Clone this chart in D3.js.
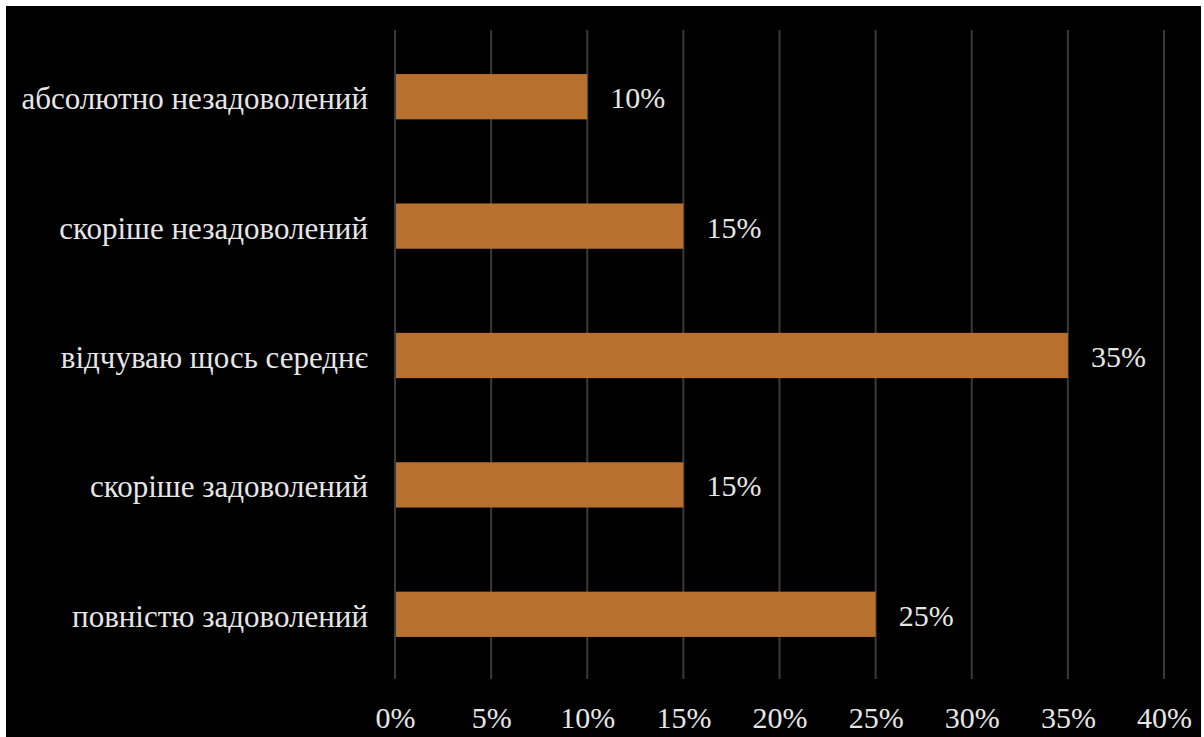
<!DOCTYPE html>
<html><head><meta charset="utf-8">
<script src="https://cdn.jsdelivr.net/npm/d3@7"></script>
<style>html,body{margin:0;padding:0;background:#fff;}svg{display:block;}</style>
</head><body>
<svg id="c" width="1204" height="737"></svg>
<script>
const categories = ["абсолютно незадоволений","скоріше незадоволений","відчуваю щось середнє","скоріше задоволений","повністю задоволений"];
const values = [10, 15, 35, 15, 25];
const ticks = [0,5,10,15,20,25,30,35,40];

const FONT = "'Liberation Serif'";
const svg = d3.select("#c");
svg.append("rect").attr("x",6).attr("y",6).attr("width",1195).attr("height",731).attr("fill","#000");

const x = d3.scaleLinear().domain([0,40]).range([395,1164]);
const y = d3.scaleBand().domain(categories).range([32,679]).paddingInner(0.65).paddingOuter(0.325);

svg.append("g").selectAll("line").data(ticks).join("line")
  .attr("x1",d=>x(d)).attr("x2",d=>x(d)).attr("y1",30).attr("y2",679)
  .attr("stroke","#3a3a3a").attr("stroke-width",2);

svg.append("g").selectAll("rect").data(values).join("rect")
  .attr("x",x(0)+1).attr("y",(d,i)=>y(categories[i]))
  .attr("width",d=>x(d)-x(0)-1).attr("height",y.bandwidth())
  .attr("fill","#B8702E");

svg.append("g").selectAll("text").data(values).join("text")
  .attr("x",d=>x(d)+23).attr("y",(d,i)=>y(categories[i])+y.bandwidth()/2)
  .attr("dy","0.38em").attr("fill","#e6e6e6")
  .style("font-family",FONT).style("font-size","30px")
  .text(d=>d+"%");

const yAxis = d3.axisLeft(y).tickSize(0).tickPadding(0);
const ga = svg.append("g").attr("transform","translate(368,0)").call(yAxis);
ga.select(".domain").remove();
ga.selectAll("text").attr("fill","#e6e6e6").style("font-family",FONT).style("font-size","31px").attr("dy","0.4em");

const xAxis = d3.axisBottom(x).tickValues(ticks).tickSize(0).tickPadding(0).tickFormat(d=>d+"%");
const gx = svg.append("g").attr("transform","translate(0,728)").call(xAxis);
gx.select(".domain").remove();
gx.selectAll("text").attr("fill","#e6e6e6").style("font-family",FONT).style("font-size","30px").attr("dy","0");
</script>
</body></html>
